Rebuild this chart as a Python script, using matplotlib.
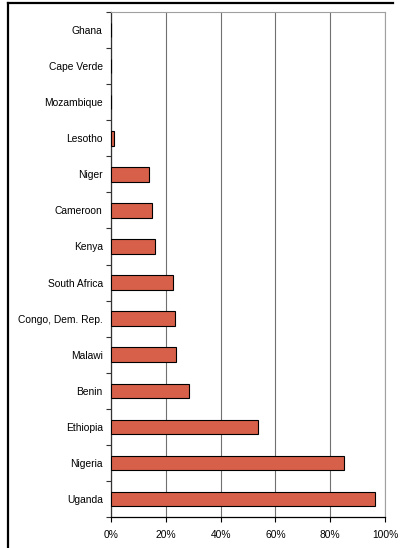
import numpy as np
import matplotlib.pyplot as plt
from matplotlib.lines import Line2D

plt.rcParams['font.family'] = ['Liberation Sans', 'DejaVu Sans']

# share of respondents, bottom to top
countries = ["Uganda", "Nigeria", "Ethiopia", "Benin", "Malawi", "Congo, Dem. Rep.",
             "South Africa", "Kenya", "Cameroon", "Niger", "Lesotho", "Mozambique",
             "Cape Verde", "Ghana"]
shares = [96.4, 84.9, 53.8, 28.5, 23.6, 23.2, 22.7, 15.9, 14.8, 13.7, 1.2, 0.0, 0.0, 0.0]
xticks = [0, 20, 40, 60, 80, 100]

fig = plt.figure(figsize=(4.01, 5.48), dpi=100)
ax = fig.add_axes([0.2768, 0.0566, 0.9601 - 0.2768, 0.978 - 0.0566])

y = np.arange(len(countries))
ax.barh(y, shares, height=0.4, color="#D7604A", edgecolor="black", linewidth=0.8, zorder=3)

ax.set_xlim(0, 100)
ax.set_ylim(-0.5, len(countries) - 0.5)

ax.set_xticks(xticks)
ax.set_xticklabels([f"{v}%" for v in xticks], fontsize=7.4)
ax.xaxis.grid(True, color="#707070", linewidth=0.8, zorder=0)

# category labels in the middle, tick marks on the boundaries
ax.set_yticks(y)
ax.set_yticklabels(countries, fontsize=7.4)
ax.set_yticks(np.arange(len(countries) + 1) - 0.5, minor=True)
ax.tick_params(axis="y", which="major", length=0, pad=6)
ax.tick_params(axis="y", which="minor", length=3.5, width=0.8, color="#333333")
ax.tick_params(axis="x", length=3.5, width=0.8, pad=6)

for side in ["top", "right"]:
    ax.spines[side].set_color("#a0a0a0")
    ax.spines[side].set_linewidth(0.8)
ax.spines["left"].set_color("#333333")
ax.spines["bottom"].set_color("black")
for side in ["left", "bottom"]:
    ax.spines[side].set_linewidth(0.9)

# outer frame of the chart area
W, H = 401, 548
fig.add_artist(Line2D([8 / W, 393 / W], [1 - 3 / H, 1 - 3 / H], color="black", linewidth=1.6))
fig.add_artist(Line2D([8 / W, 8 / W], [1 - 3 / H, 0], color="black", linewidth=1.6))

fig.savefig("out.png", dpi=100)
